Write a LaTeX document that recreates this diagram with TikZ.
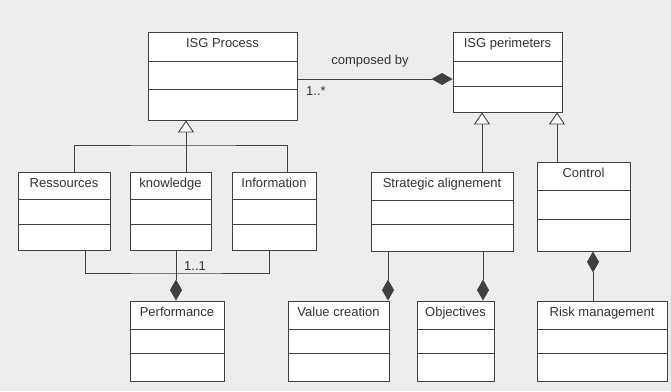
\documentclass[tikz,border=0pt]{standalone}
\usepackage{fontspec}
\setmainfont{Liberation Sans}
\usetikzlibrary{arrows.meta,fit}

\tikzset{
	umlline/.style={draw=black!75, line width=0.9pt},
	umlbox/.style={umlline, fill=white, rectangle, inner sep=0pt},
	umltitle/.style={anchor=base, inner sep=0pt, font=\fontsize{13}{15}\selectfont, text=black!80},
	umllabel/.style={inner sep=0pt, font=\fontsize{13}{15}\selectfont, text=black!80},
	compo/.style={umlline, -{Diamond[length=21pt, width=12pt]}},
	gener/.style={umlline, -{Triangle[length=12pt, width=16pt, fill=white]}}
}

% class box: name, x1, y1, x2, y2, first divider, second divider, title
\newcommand{\umlclass}[8]{%
	\coordinate (#1-nw) at (#2,#3);
	\coordinate (#1-se) at (#4,#5);
	\node[umlbox, fit=(#1-nw)(#1-se)] (#1) {};
	\draw[umlline] (#1.west |- 0,#6) -- (#1.east |- 0,#6);
	\draw[umlline] (#1.west |- 0,#7) -- (#1.east |- 0,#7);
	\node[umltitle] (#1-title) at ([yshift=-16pt]#1.north) {#8};
}

\begin{document}
\begin{tikzpicture}[x=1pt, y=-1pt]
	\fill[black!7] (0,0) rectangle (671,391);
	\useasboundingbox (0,0) rectangle (671,391);
	% classes
	\umlclass{proc}{148}{32}{297}{120}{61}{89}{ISG Process}
	\umlclass{perim}{453}{32}{562}{112}{61}{86}{ISG perimeters}
	\umlclass{res}{18}{172}{110}{250}{199}{224}{Ressources}
	\umlclass{know}{130}{172}{211}{250}{199}{224}{knowledge}
	\umlclass{info}{232}{172}{316}{250}{199}{224}{Information}
	\umlclass{strat}{371}{172}{513}{251}{200}{224}{Strategic alignement}
	\umlclass{ctrl}{537}{162}{630}{251}{190}{219}{Control}
	\umlclass{perf}{130}{301}{224}{381}{329}{353}{Performance}
	\umlclass{value}{288}{301}{389}{381}{329}{353}{Value creation}
	\umlclass{obj}{417}{301}{494}{381}{329}{353}{Objectives}
	\umlclass{risk}{537}{301}{667}{381}{329}{353}{Risk management}
	% composed by
	\draw[compo] (proc.east |- 0,79) -- (perim.west |- 0,79);
	\node[umllabel] (composed) at (370,61) {composed by};
	\node[umllabel] (multproc) at (316,91) {1..*};
	% generalizations
	\coordinate (procjoin) at (186,145);
	\draw[umlline] (res.north -| 74,0) |- (procjoin) -| (info.north -| 287,0);
	\draw[gener] (know.north -| procjoin) -- (proc.south -| procjoin);
	\draw[gener] (strat.north -| 482,0) -- (perim.south -| 482,0);
	\draw[gener] (ctrl.north -| 557,0) -- (perim.south -| 557,0);
	% compositions
	\coordinate (perfjoin) at (176,273);
	\draw[umlline] (res.south -| 85,0) |- (perfjoin) -| (info.south -| 269,0);
	\draw[compo] (know.south -| perfjoin) -- (perf.north -| perfjoin);
	\node[umllabel] (multperf) at (195,266) {1..1};
	\draw[compo] (strat.south -| 388,0) -- (value.north -| 388,0);
	\draw[compo] (strat.south -| 483,0) -- (obj.north -| 483,0);
	\draw[compo] (risk.north -| 593,0) -- (ctrl.south -| 593,0);
\end{tikzpicture}
\end{document}
